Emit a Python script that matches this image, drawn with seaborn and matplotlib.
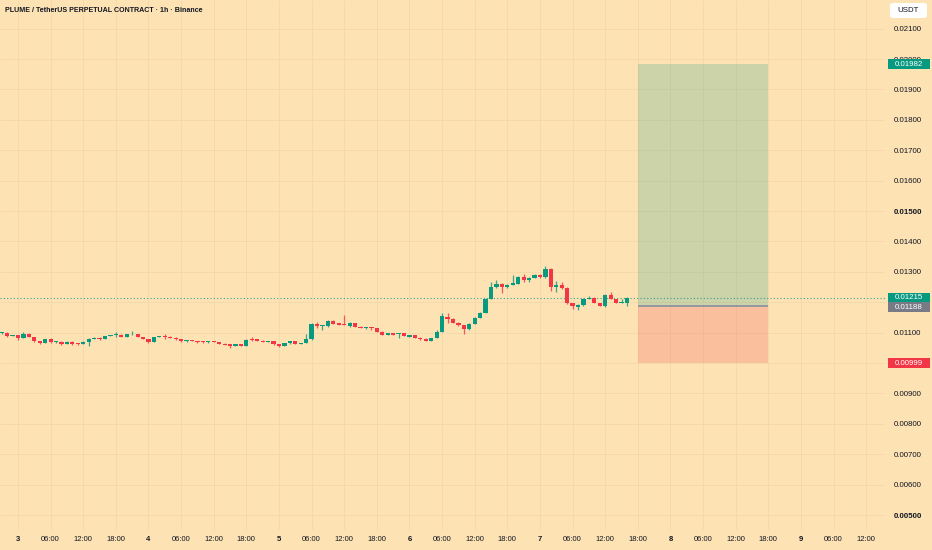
import numpy as np
import pandas as pd
import matplotlib
matplotlib.use("Agg")
import matplotlib.pyplot as plt
import matplotlib.transforms as mtransforms
from matplotlib.patches import Rectangle, FancyBboxPatch
from matplotlib import font_manager
import seaborn as sns

# ---------------- data ----------------
title = "PLUME / TetherUS PERPETUAL CONTRACT · 1h · Binance"
first_hour = -3  # first candle: 21:00 the day before "3"

opens = [0.01098, 0.01099, 0.01089, 0.01092, 0.01083, 0.01096, 0.01086, 0.01073, 0.01066, 0.01079,
         0.01069, 0.01070, 0.01063, 0.01070, 0.01066, 0.01062, 0.01069, 0.01079, 0.01082, 0.01079,
         0.01089, 0.01092, 0.01093, 0.01086, 0.01094, 0.01096, 0.01086, 0.01079, 0.01069, 0.01086,
         0.01089, 0.01087, 0.01083, 0.01078, 0.01071, 0.01075, 0.01072, 0.01071, 0.01069, 0.01072,
         0.01069, 0.01064, 0.01062, 0.01056, 0.01063, 0.01057, 0.01078, 0.01078, 0.01074, 0.01069,
         0.01072, 0.01062, 0.01057, 0.01066, 0.01071, 0.01064, 0.01066, 0.01079, 0.01128, 0.01122,
         0.01122, 0.01138, 0.01130, 0.01126, 0.01122, 0.01132, 0.01120, 0.01115, 0.01116, 0.01114,
         0.01103, 0.01093, 0.01099, 0.01095, 0.01098, 0.01087, 0.01092, 0.01083, 0.01079, 0.01073,
         0.01082, 0.01102, 0.01151, 0.01145, 0.01132, 0.01125, 0.01112, 0.01128, 0.01148, 0.01165,
         0.01211, 0.01250, 0.01260, 0.01250, 0.01257, 0.01260, 0.01283, 0.01273, 0.01280, 0.01290,
         0.01283, 0.01309, 0.01250, 0.01257, 0.01247, 0.01197, 0.01184, 0.01191, 0.01211, 0.01214,
         0.01197, 0.01188, 0.01224, 0.01211, 0.01198, 0.01197]
highs = [0.01102, 0.01101, 0.01093, 0.01093, 0.01103, 0.01099, 0.01087, 0.01074, 0.01080, 0.01081,
         0.01073, 0.01071, 0.01071, 0.01072, 0.01067, 0.01071, 0.01081, 0.01086, 0.01084, 0.01090,
         0.01093, 0.01102, 0.01094, 0.01097, 0.01105, 0.01097, 0.01087, 0.01080, 0.01087, 0.01090,
         0.01097, 0.01088, 0.01086, 0.01080, 0.01077, 0.01076, 0.01073, 0.01072, 0.01074, 0.01073,
         0.01070, 0.01065, 0.01064, 0.01064, 0.01064, 0.01078, 0.01086, 0.01080, 0.01076, 0.01073,
         0.01073, 0.01063, 0.01067, 0.01072, 0.01073, 0.01067, 0.01095, 0.01130, 0.01135, 0.01126,
         0.01140, 0.01140, 0.01131, 0.01158, 0.01134, 0.01133, 0.01121, 0.01118, 0.01118, 0.01115,
         0.01104, 0.01100, 0.01100, 0.01099, 0.01100, 0.01093, 0.01093, 0.01084, 0.01081, 0.01083,
         0.01109, 0.01165, 0.01165, 0.01147, 0.01134, 0.01126, 0.01130, 0.01150, 0.01167, 0.01213,
         0.01265, 0.01272, 0.01262, 0.01260, 0.01290, 0.01285, 0.01293, 0.01282, 0.01293, 0.01292,
         0.01319, 0.01311, 0.01270, 0.01268, 0.01249, 0.01199, 0.01193, 0.01213, 0.01220, 0.01216,
         0.01199, 0.01226, 0.01234, 0.01212, 0.01210, 0.01218]
lows = [0.01096, 0.01087, 0.01088, 0.01076, 0.01081, 0.01084, 0.01068, 0.01064, 0.01065, 0.01067,
        0.01067, 0.01058, 0.01061, 0.01060, 0.01060, 0.01061, 0.01056, 0.01078, 0.01077, 0.01078,
        0.01088, 0.01086, 0.01085, 0.01084, 0.01093, 0.01085, 0.01078, 0.01067, 0.01068, 0.01085,
        0.01080, 0.01081, 0.01076, 0.01070, 0.01070, 0.01071, 0.01065, 0.01067, 0.01067, 0.01068,
        0.01062, 0.01058, 0.01050, 0.01055, 0.01055, 0.01056, 0.01072, 0.01071, 0.01068, 0.01068,
        0.01060, 0.01052, 0.01055, 0.01064, 0.01063, 0.01063, 0.01065, 0.01077, 0.01115, 0.01108,
        0.01120, 0.01127, 0.01124, 0.01124, 0.01120, 0.01117, 0.01114, 0.01113, 0.01108, 0.01102,
        0.01091, 0.01091, 0.01092, 0.01083, 0.01089, 0.01086, 0.01082, 0.01077, 0.01071, 0.01072,
        0.01081, 0.01101, 0.01132, 0.01130, 0.01123, 0.01095, 0.01110, 0.01127, 0.01147, 0.01163,
        0.01209, 0.01248, 0.01230, 0.01247, 0.01255, 0.01259, 0.01265, 0.01266, 0.01278, 0.01281,
        0.01281, 0.01237, 0.01235, 0.01245, 0.01195, 0.01178, 0.01175, 0.01189, 0.01209, 0.01196,
        0.01186, 0.01183, 0.01209, 0.01196, 0.01196, 0.01189]
closes = [0.01099, 0.01089, 0.01092, 0.01083, 0.01096, 0.01086, 0.01073, 0.01066, 0.01079, 0.01069,
          0.01070, 0.01063, 0.01070, 0.01063, 0.01062, 0.01069, 0.01079, 0.01082, 0.01079, 0.01089,
          0.01092, 0.01093, 0.01086, 0.01096, 0.01096, 0.01086, 0.01079, 0.01069, 0.01086, 0.01089,
          0.01087, 0.01083, 0.01078, 0.01071, 0.01075, 0.01072, 0.01069, 0.01069, 0.01072, 0.01069,
          0.01063, 0.01059, 0.01056, 0.01063, 0.01057, 0.01076, 0.01076, 0.01072, 0.01069, 0.01072,
          0.01061, 0.01057, 0.01066, 0.01071, 0.01064, 0.01066, 0.01079, 0.01128, 0.01122, 0.01125,
          0.01138, 0.01128, 0.01125, 0.01125, 0.01132, 0.01118, 0.01115, 0.01116, 0.01114, 0.01103,
          0.01093, 0.01099, 0.01093, 0.01098, 0.01090, 0.01092, 0.01083, 0.01079, 0.01073, 0.01082,
          0.01102, 0.01155, 0.01145, 0.01132, 0.01125, 0.01112, 0.01128, 0.01148, 0.01165, 0.01211,
          0.01250, 0.01260, 0.01250, 0.01257, 0.01263, 0.01283, 0.01273, 0.01280, 0.01290, 0.01283,
          0.01309, 0.01250, 0.01257, 0.01247, 0.01197, 0.01188, 0.01191, 0.01211, 0.01214, 0.01197,
          0.01188, 0.01224, 0.01211, 0.01197, 0.01199, 0.01215]

price_ticks = [0.005, 0.006, 0.007, 0.008, 0.009, 0.010, 0.011, 0.012, 0.013, 0.014,
               0.015, 0.016, 0.017, 0.018, 0.019, 0.020, 0.021]
hidden_price_labels = [0.010, 0.012]   # covered by the price tags in the original
bold_price_ticks = [0.015, 0.005]
time_tick_hours = [0, 6, 12, 18, 24, 30, 36, 42, 48, 54, 60, 66, 72, 78, 84, 90, 96, 102,
                   108, 114, 120, 126, 132, 138, 144, 150, 156]
time_tick_labels = ["3", "06:00", "12:00", "18:00", "4", "06:00", "12:00", "18:00",
                    "5", "06:00", "12:00", "18:00", "6", "06:00", "12:00", "18:00",
                    "7", "06:00", "12:00", "18:00", "8", "06:00", "12:00", "18:00",
                    "9", "06:00", "12:00"]
last_price = 0.01215
entry_price = 0.01188
target_price = 0.01982
stop_price = 0.00999
position_start_hour = 114
position_end_hour = 138

# ---------------- style ----------------
BG = "#FDE2B4"
GRID = "#F4D8A9"
UP = "#089981"
DOWN = "#F23645"
TXT = "#131722"

sns.set_theme(style="white")
plt.rcParams["font.family"] = ["Liberation Sans", "DejaVu Sans"]

installed = {f.name for f in font_manager.fontManager.ttflist}
title_family = ["Liberation Sans Narrow", "Liberation Sans"] if "Liberation Sans Narrow" in installed \
    else ["Liberation Sans", "DejaVu Sans"]
title_size = 6.0 if "Liberation Sans Narrow" in installed else 5.1

W, H = 932, 550
fig = plt.figure(figsize=(W / 100, H / 100), dpi=100, facecolor=BG)
ax = fig.add_axes([0, 20 / H, 885 / W, 530 / H], facecolor=BG)

df = pd.DataFrame({"open": opens, "high": highs, "low": lows, "close": closes})
df["hour"] = first_hour + np.arange(len(df))
df["up"] = df["close"] >= df["open"]
df["color"] = np.where(df["up"], UP, DOWN)
df["bottom"] = df[["open", "close"]].min(axis=1)
df["height"] = (df["close"] - df["open"]).abs().clip(lower=0.00003)

ax.vlines(df["hour"], df["low"], df["high"], colors=df["color"], lw=0.9, alpha=0.8, zorder=3)
ax.bar(df["hour"], df["height"], bottom=df["bottom"], width=0.78,
       color=df["color"], linewidth=0, zorder=4)

# position tool
ax.add_patch(Rectangle((position_start_hour, entry_price),
                       position_end_hour - position_start_hour,
                       target_price - entry_price,
                       facecolor=UP, alpha=0.2, lw=0, zorder=2))
ax.add_patch(Rectangle((position_start_hour, stop_price),
                       position_end_hour - position_start_hour,
                       entry_price - stop_price,
                       facecolor=DOWN, alpha=0.2, lw=0, zorder=2))
ax.hlines(entry_price, position_start_hour, position_end_hour, color="#9598A1", lw=1.4, zorder=2.5)

# last price dotted line
ax.axhline(last_price, color=UP, lw=0.8, ls=(0, (1, 2)), alpha=0.8, zorder=2.6)

# axes limits (price scale / time scale)
ax.set_ylim(0.004507, 0.021941)
ax.set_xlim(-3.31, 159.45)

ax.yaxis.tick_right()
ax.set_yticks(price_ticks)
ax.set_yticklabels(["" if p in hidden_price_labels else f"{p:.5f}" for p in price_ticks])
ax.set_xticks(time_tick_hours)
ax.set_xticklabels(time_tick_labels)
ax.tick_params(axis="y", length=0, pad=6, labelsize=5.7, labelcolor=TXT)
ax.tick_params(axis="x", length=0, pad=4, labelsize=5.5, labelcolor=TXT)
for lab, p in zip(ax.get_yticklabels(), price_ticks):
    if p in bold_price_ticks:
        lab.set_fontweight("bold")
for lab in ax.get_xticklabels():
    if ":" not in lab.get_text():
        lab.set_fontweight("bold")

ax.grid(True, color=GRID, lw=0.6, zorder=0)
ax.set_axisbelow(True)
for s in ax.spines.values():
    s.set_visible(False)

# price tags on the right scale
trans = mtransforms.blended_transform_factory(fig.transFigure, ax.transData)
px_to_price = (0.021941 - 0.004507) / 530.0
tag_h = 10 * px_to_price
for price, shift, color in [(target_price, 0, UP), (last_price, 0, UP),
                            (entry_price, -1.3, "#787B86"), (stop_price, 0, DOWN)]:
    yc = price + shift * px_to_price
    ax.add_patch(Rectangle((888 / W, yc - tag_h / 2), 42 / W, tag_h, transform=trans,
                           facecolor=color, lw=0, clip_on=False, zorder=10))
    ax.text(909 / W, yc, f"{price:.5f}", transform=trans, ha="center", va="center",
            fontsize=5.7, color="white", zorder=11, clip_on=False)

# USDT box
fig.patches.append(FancyBboxPatch((890 / W, 1 - 18 / H), 37 / W, 15 / H,
                                  boxstyle="round,pad=0,rounding_size=0.004",
                                  transform=fig.transFigure, facecolor="white",
                                  edgecolor="none", zorder=10))
fig.text(908.5 / W, 1 - 10.5 / H, "USDT", ha="center", va="center", fontsize=5.7,
         color=TXT, zorder=11)

# title
fig.text(5 / W, 1 - 10 / H, title, ha="left", va="center", fontsize=title_size,
         fontweight="bold", color=TXT, family=title_family)

fig.savefig("out.png", dpi=100, facecolor=BG)
